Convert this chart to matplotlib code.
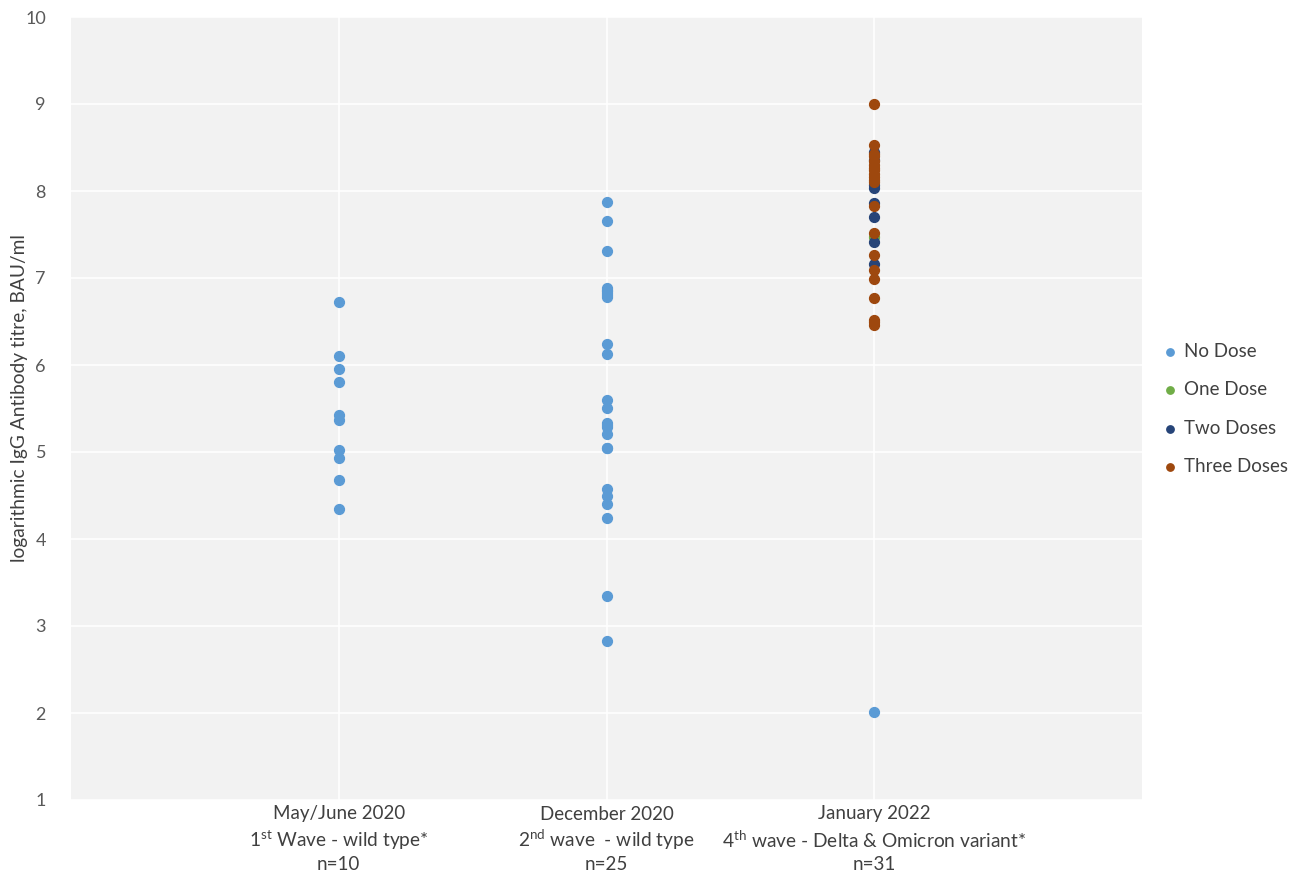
import numpy as np
import matplotlib.pyplot as plt

# ---- data (log IgG titre) ----
wave_dates = ["May/June 2020", "December 2020", "January 2022"]
wave_names = ["1$^{\\mathregular{st}}$ Wave - wild type*",
              "2$^{\\mathregular{nd}}$ wave  - wild type",
              "4$^{\\mathregular{th}}$ wave - Delta & Omicron variant*"]
wave_n = ["n=10", "n=25", "n=31"]
wave_pos = [1, 2, 3]

wave1_no_dose = [6.72, 6.10, 5.95, 5.80, 5.42, 5.37, 5.02, 4.93, 4.68, 4.34]
wave2_no_dose = [7.87, 7.65, 7.31, 6.89, 6.86, 6.83, 6.81, 6.78, 6.24, 6.13,
                 5.60, 5.51, 5.33, 5.31, 5.29, 5.21, 5.05, 5.05, 4.58, 4.50,
                 4.40, 4.24, 3.35, 2.83, 6.85]
wave3_no_dose = [2.01]
wave3_one_dose = [7.47]
wave3_two_doses = [8.45, 8.36, 8.07, 8.03, 7.86, 7.70, 7.41, 7.16]
wave3_three_doses = [9.00, 8.53, 8.43, 8.40, 8.34, 8.30, 8.26, 8.24, 8.20, 8.16,
                     8.13, 8.10, 7.83, 7.52, 7.26, 7.09, 6.99, 6.77, 6.52, 6.49,
                     6.46]

colors = {"No Dose": "#5b9bd5", "One Dose": "#70ad47",
          "Two Doses": "#264478", "Three Doses": "#9e480e"}

plt.rcParams['font.family'] = ['Lato', 'DejaVu Sans']
txt = '#404040'

W, H = 1303, 877
fig = plt.figure(figsize=(W/100, H/100), dpi=100)
ax = fig.add_axes([71/W, 1-800/H, (1142-71)/W, (800-17)/H])
ax.set_facecolor('#f2f2f2')

ms = 50
no_x = [1]*len(wave1_no_dose) + [2]*len(wave2_no_dose) + [3]*len(wave3_no_dose)
no_y = wave1_no_dose + wave2_no_dose + wave3_no_dose
ax.scatter(no_x, no_y, s=ms, color=colors["No Dose"], label="No Dose", zorder=3)
ax.scatter([3]*len(wave3_one_dose), wave3_one_dose, s=ms, color=colors["One Dose"], label="One Dose", zorder=3)
ax.scatter([3]*len(wave3_two_doses), wave3_two_doses, s=ms, color=colors["Two Doses"], label="Two Doses", zorder=3)
ax.scatter([3]*len(wave3_three_doses), wave3_three_doses, s=ms, color=colors["Three Doses"], label="Three Doses", zorder=3)

ax.set_xlim(0, 4)
ax.set_ylim(1, 10)
ax.set_yticks(range(1, 11))
ax.set_xticks(wave_pos)
ax.set_xticklabels([])
ax.grid(True, color='white', linewidth=1.2)
ax.set_axisbelow(True)
for s in ax.spines.values():
    s.set_visible(False)
ax.tick_params(length=0)
ax.tick_params(axis='y', labelsize=13, labelcolor='#595959', pad=18)

# category labels, three lines each
tr = ax.get_xaxis_transform()
for p, d, w, n in zip(wave_pos, wave_dates, wave_names, wave_n):
    ax.text(p, (800-814)/783, d, transform=tr, ha='center', va='center', fontsize=13.5, color=txt)
    ax.text(p, (800-840)/783, w, transform=tr, ha='center', va='center', fontsize=13.8, color=txt)
    ax.text(p, (800-864)/783, n, transform=tr, ha='center', va='center', fontsize=13.5, color=txt)

fig.text(20/W, 1-398/H, "logarithmic IgG Antibody titre, BAU/ml", rotation=90,
         ha='center', va='center', fontsize=13.8, color=txt)

fig.legend(loc='center left', bbox_to_anchor=(1164/W, 1-409/H), frameon=False,
           fontsize=13.5, labelspacing=1.15, handlelength=0.6, handletextpad=0.45,
           borderpad=0, borderaxespad=0, markerscale=0.75, labelcolor=txt)

fig.savefig('out.png', dpi=100, facecolor='white')
